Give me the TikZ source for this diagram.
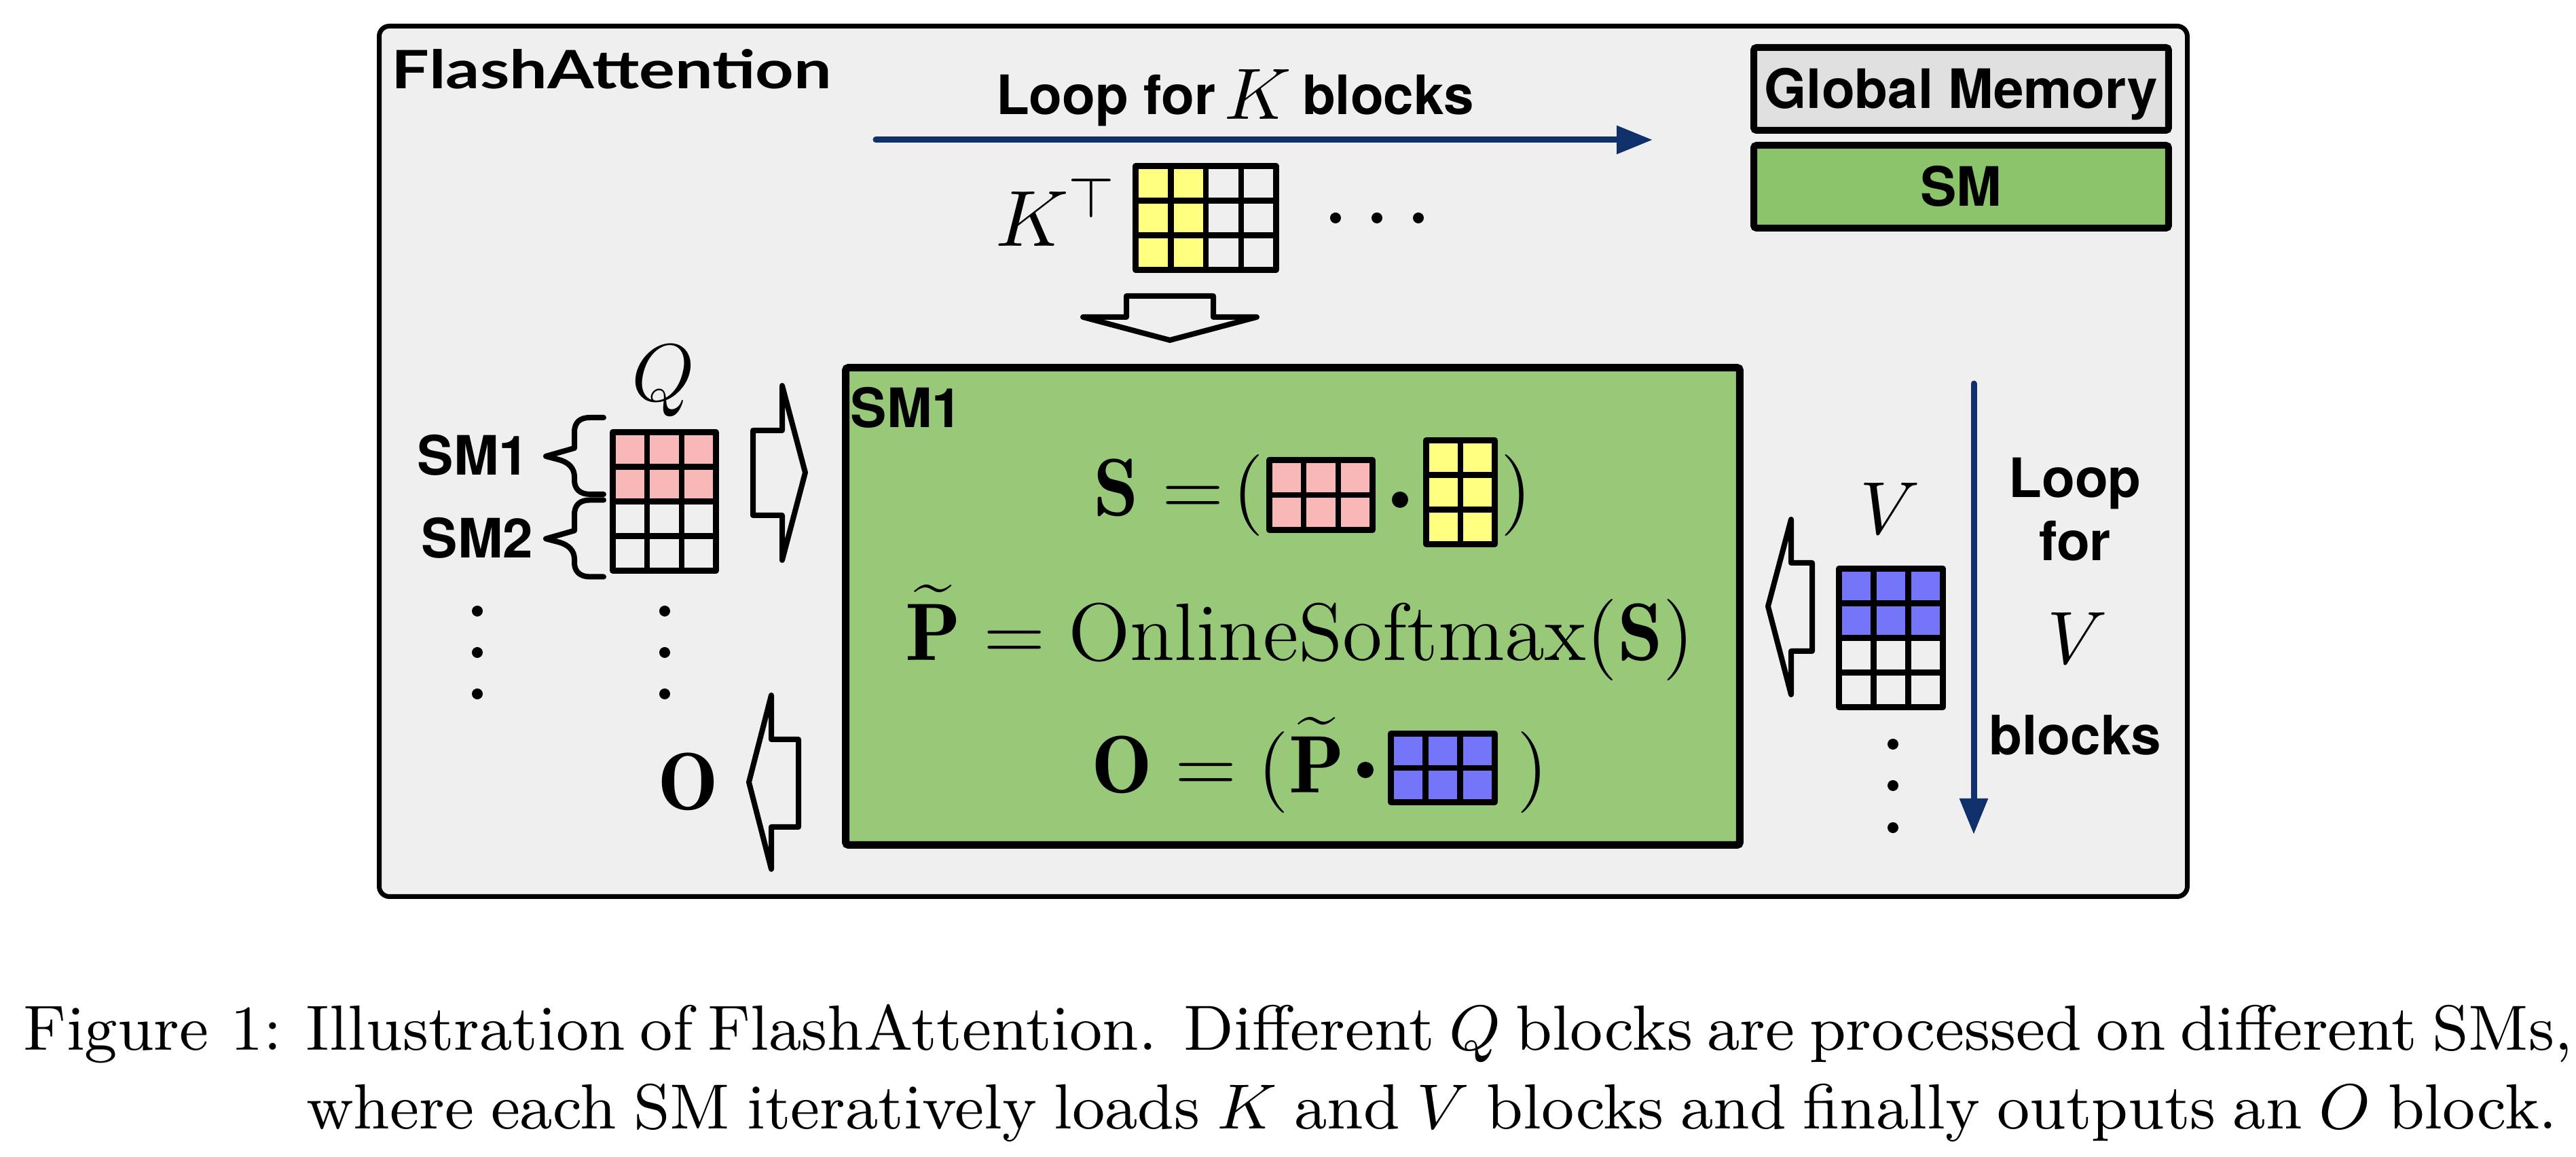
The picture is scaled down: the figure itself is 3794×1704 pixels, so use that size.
\RequirePackage{fix-cm}
\documentclass[tikz,border=0pt]{standalone}
\usepackage{fontspec}
\usepackage{graphicx}
\usetikzlibrary{arrows.meta}
\newfontfamily\hv{TeX Gyre Heros}
\newfontfamily\flashfont{Lato}
\definecolor{bggray}{HTML}{EFEFEF}
\definecolor{gmgray}{HTML}{E0E0E0}
\definecolor{smgreen}{HTML}{8BC46A}
\definecolor{boxgreen}{HTML}{97C978}
\definecolor{qpink}{HTML}{F8B8B8}
\definecolor{kyellow}{HTML}{FFFF80}
\definecolor{vblue}{HTML}{7575FA}
\definecolor{navy}{HTML}{0F306B}
\tikzset{
  txt/.style={inner sep=0pt, outer sep=0pt},
  sanslbl/.style={txt, font=\hv\bfseries\fontsize{8}{9.6}\selectfont},
  mathlbl/.style={txt, font=\fontsize{12}{14}\selectfont},
  gridline/.style={line width=0.85pt, line join=round, line cap=round},
  blockarrow/.style={line width=0.8pt, line join=round},
  bracestyle/.style={line width=0.8pt, line join=round, line cap=round},
  looparrow/.style={draw=navy, line width=0.9pt, line cap=round, -{Triangle[length=5.3pt,width=4pt]}},
  legendbox/.style={draw, line width=1pt, rounded corners=0.4pt, minimum width=61.1pt, minimum height=12.2pt, inner sep=0pt, font=\hv\bfseries\fontsize{8}{9.6}\selectfont, text height=5.74pt, text depth=0pt},
  capfont/.style={txt, font=\fontsize{9.4}{11.3}\selectfont},
}
\newcommand\mgrid[6]{%
  \pgfmathtruncatemacro\mgcols{#5-1}%
  \foreach \k in {1,...,\mgcols}{\draw[gridline] ({#1+(#3-#1)*\k/#5},#2) -- ({#1+(#3-#1)*\k/#5},#4);}%
  \pgfmathtruncatemacro\mgrows{#6-1}%
  \foreach \k in {1,...,\mgrows}{\draw[gridline] (#1,{#2+(#4-#2)*\k/#6}) -- (#3,{#2+(#4-#2)*\k/#6});}%
  \draw[gridline] (#1,#2) rectangle (#3,#4);
}
\begin{document}
\begin{tikzpicture}[x=0.1pt,y=-0.1pt]
\useasboundingbox (0,0) rectangle (3794,1704);
\fill[white] (0,0) rectangle (3794,1704);
% outer frame
\draw[line width=0.7pt, fill=bggray, rounded corners=1.5pt] (558.5,38.5) rectangle (3221.5,1320.5);
% title
\node[txt, anchor=base west] (title) at (577,131) {\resizebox{64.8pt}{5.8pt}{\flashfont\bfseries FlashAttention}};
% loop for K blocks
\node[sanslbl, anchor=base west] (kloopa) at (1467,169) {Loop for};
\node[txt, anchor=base west, font=\fontsize{10.7}{12}\selectfont] (kloopk) at (1803,176) {$K$};
\node[sanslbl, anchor=base west] (kloopb) at (1918,169) {blocks};
\coordinate (karrowstart) at (1290,206);
\coordinate (karrowend) at (2434,206);
\draw[looparrow] (karrowstart) -- (karrowend);
% legend
\node[legendbox, fill=gmgray] (gm) at (2888.5,131) {Global Memory};
\node[legendbox, fill=smgreen] (smleg) at (2888.5,275) {SM};
% K^T block
\node[txt, anchor=base west, font=\fontsize{11.7}{14}\selectfont] (kt) at (1466,363) {$K^{\top}$};
\fill[kyellow] (1672.5,244.5) rectangle (1776,397.5);
\mgrid{1672.5}{244.5}{1879.5}{397.5}{4}{3}
\fill (1967,321) circle (0.8pt);
\fill (2028,321) circle (0.8pt);
\fill (2089,321) circle (0.8pt);
% down block arrow
\draw[blockarrow] (1659,436) -- (1787,436) -- (1787,467) -- (1851,467) -- (1723,501) -- (1595,467) -- (1659,467) -- cycle;
% Q block
\node[mathlbl, anchor=base] (qlbl) at (977,591) {$Q$};
\fill[qpink] (902.5,636.5) rectangle (1054.5,738.5);
\mgrid{902.5}{636.5}{1054.5}{840.5}{3}{4}
\node[sanslbl, anchor=base] (sm1l) at (697,700) {SM1};
\node[sanslbl, anchor=base] (sm2l) at (703,822) {SM2};
\draw[bracestyle] (889,615) -- (869,615) .. controls (854,615) and (846,622) .. (846,637) -- (846,660) -- (804,672) -- (823,677) .. controls (838,681) and (846,690) .. (846,702) -- (846,707) .. controls (846,720) and (854,728) .. (869,728) -- (889,728);
\draw[bracestyle, shift={(0,121.5)}] (889,615) -- (869,615) .. controls (854,615) and (846,622) .. (846,637) -- (846,660) -- (804,672) -- (823,677) .. controls (838,681) and (846,690) .. (846,702) -- (846,707) .. controls (846,720) and (854,728) .. (869,728) -- (889,728);
\foreach \yy in {900,961,1022}{\fill (703,\yy) circle (0.8pt); \fill (979,\yy) circle (0.8pt);}
% arrows left
\draw[blockarrow] (1109,634) -- (1152,634) -- (1152,568) -- (1186,696) -- (1152,825) -- (1152,759) -- (1109,759) -- cycle;
\draw[blockarrow] (1176,1089) -- (1136,1089) -- (1136,1024) -- (1103,1152) -- (1136,1280) -- (1136,1218) -- (1176,1218) -- cycle;
\node[mathlbl, anchor=base] (olbl) at (1013,1193) {$\mathbf{O}$};
% SM1 box
\node[draw, line width=1.1pt, fill=boxgreen, minimum width=131.7pt, minimum height=70.3pt, inner sep=0pt, rounded corners=0.4pt] (smbox) at (1904,893) {};
\node[sanslbl, anchor=base] (sminbox) at (1335,630) {SM1};
% equation 1
\node[mathlbl, anchor=base] (e1s) at (1644,760) {$\mathbf{S}$};
\node[mathlbl, anchor=base] (e1eq) at (1757,760) {$=$};
\node[mathlbl, anchor=base] (e1lp) at (1838,760) {$($};
\fill[qpink] (1869.5,677.5) rectangle (2021.5,780.5);
\mgrid{1869.5}{677.5}{2021.5}{780.5}{3}{2}
\fill (2062,736) circle (1.2pt);
\fill[kyellow] (2100.5,648.5) rectangle (2201.5,801.5);
\mgrid{2100.5}{648.5}{2201.5}{801.5}{2}{3}
\node[mathlbl, anchor=base] (e1rp) at (2233,760) {$)$};
% equation 2
\node[mathlbl, anchor=base] (e2) at (1914,973) {$\widetilde{\mathbf{P}} = \mathrm{OnlineSoftmax}(\mathbf{S})$};
% equation 3
\node[mathlbl, anchor=base] (e3o) at (1652,1168) {$\mathbf{O}$};
\node[mathlbl, anchor=base] (e3eq) at (1776,1168) {$=$};
\node[mathlbl, anchor=base west] (e3lp) at (1853,1168) {$(\widetilde{\mathbf{P}}$};
\fill (2011,1134) circle (1.2pt);
\fill[vblue] (2048.5,1080.5) rectangle (2201.5,1181.5);
\mgrid{2048.5}{1080.5}{2201.5}{1181.5}{3}{2}
\node[mathlbl, anchor=base] (e3rp) at (2257,1168) {$)$};
% V side
\draw[blockarrow] (2669,829) -- (2638,829) -- (2638,765) -- (2604,893) -- (2638,1023) -- (2638,959) -- (2669,959) -- cycle;
\node[txt, anchor=base, font=\fontsize{11}{13}\selectfont] (vlbl) at (2784,787) {$V$};
\fill[vblue] (2708.5,837.5) rectangle (2861.5,939.5);
\mgrid{2708.5}{837.5}{2861.5}{1041.5}{3}{4}
\foreach \yy in {1096,1157,1219}{\fill (2788,\yy) circle (0.8pt);}
\coordinate (varrowstart) at (2907,565);
\coordinate (varrowend) at (2907,1229);
\draw[looparrow] (varrowstart) -- (varrowend);
\node[sanslbl, anchor=base] (vloopa) at (3056,733) {Loop};
\node[sanslbl, anchor=base] (vloopb) at (3056,826) {for};
\node[txt, anchor=base, font=\fontsize{11}{13}\selectfont] (vloopv) at (3060,978) {$V$};
\node[sanslbl, anchor=base] (vloopc) at (3056,1112) {blocks};
% caption
\node[capfont, anchor=base west] (cap1) at (35,1547) {\makebox[41.6pt][l]{Figure 1:}\makebox[331.6pt][s]{Illustration of FlashAttention. Different $Q$ blocks are processed on different SMs,}};
\node[capfont, anchor=base west] (cap2) at (451,1663) {\makebox[331.6pt][s]{where each SM iteratively loads $K$ and $V$ blocks and finally outputs an $O$ block.}};
\end{tikzpicture}
\end{document}
